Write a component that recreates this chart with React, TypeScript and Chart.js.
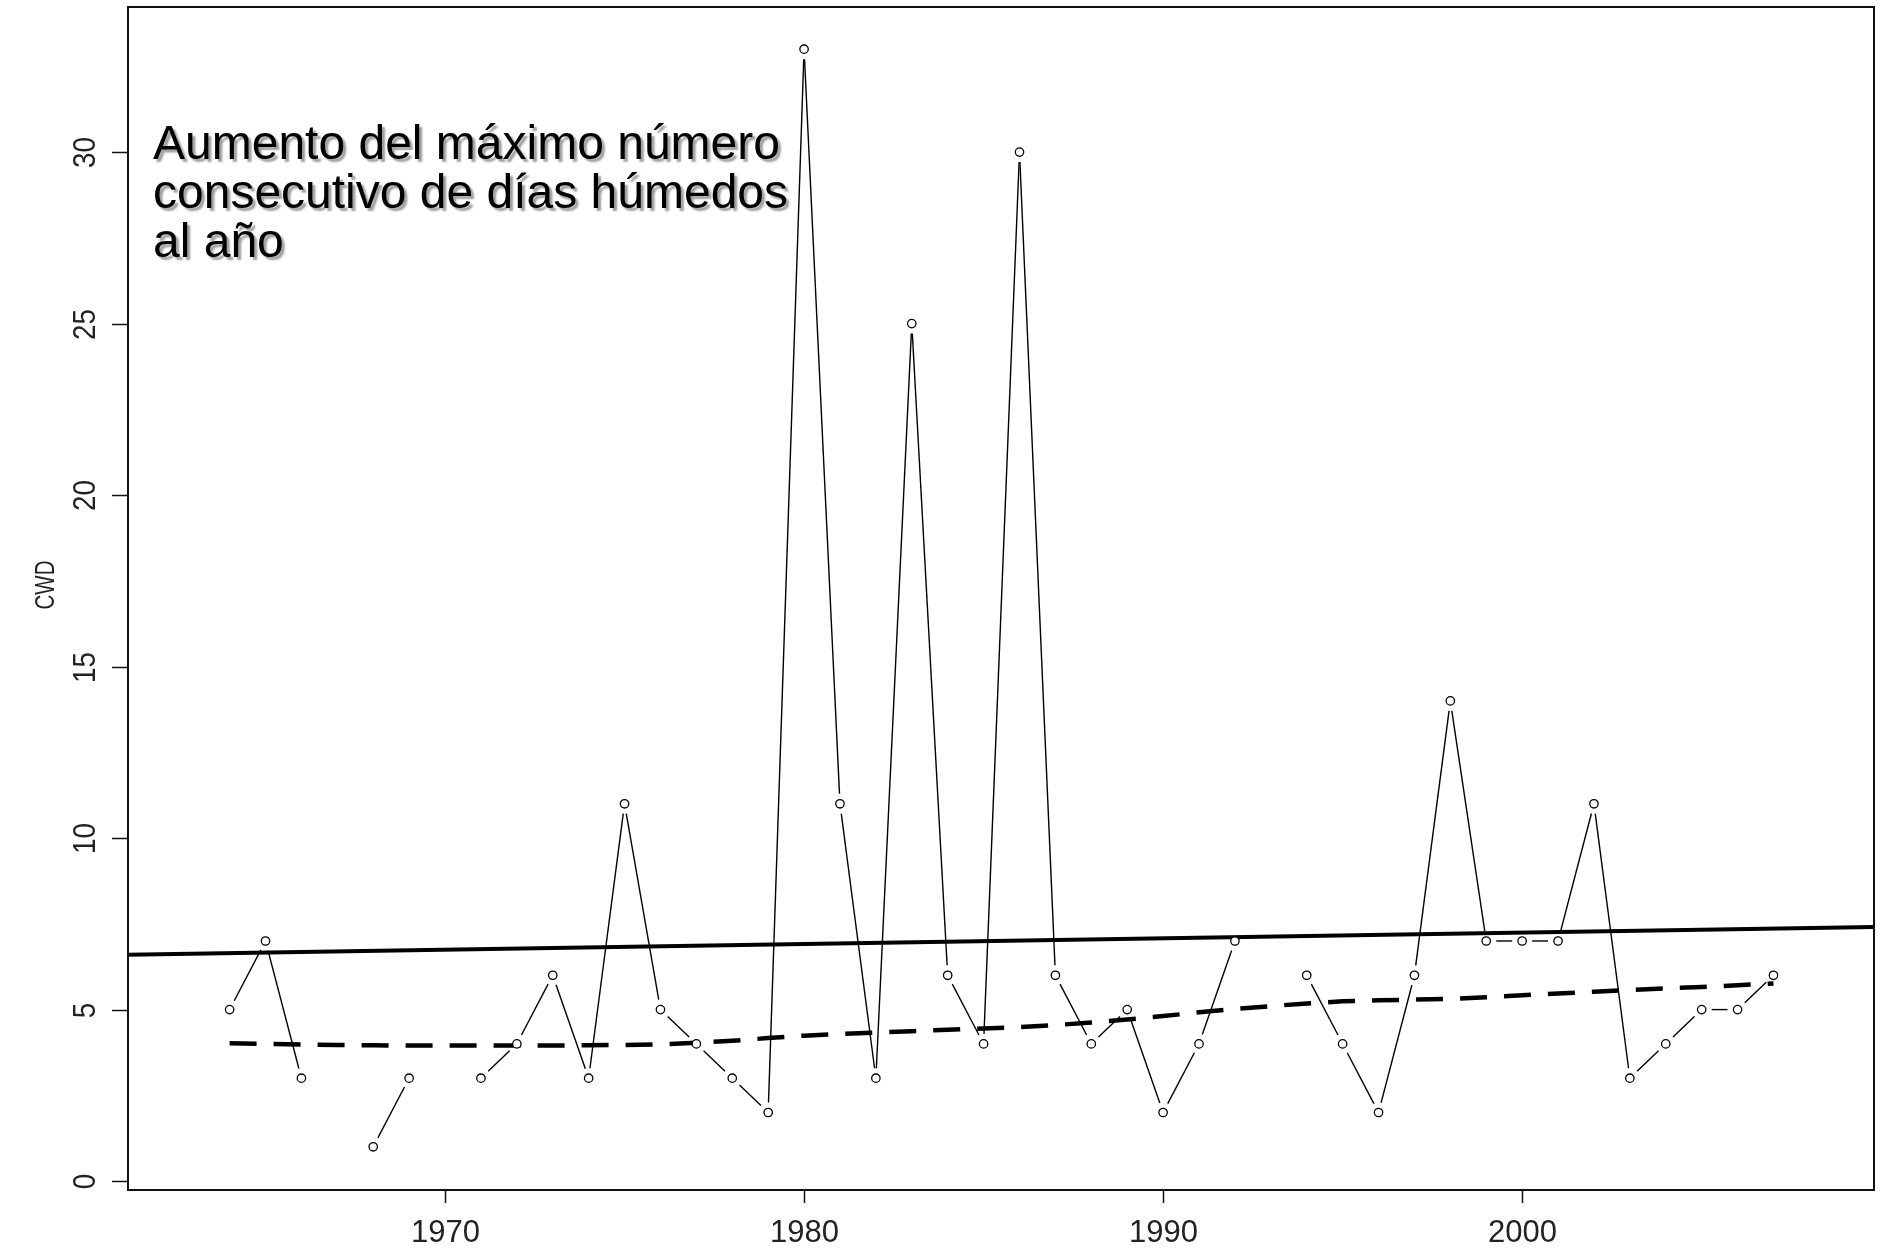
import React, { useEffect, useRef } from "react";
import { Chart, registerables } from "chart.js";

Chart.register(...registerables);

// ---- data ----
const years = [
  1964, 1965, 1966, 1967, 1968, 1969, 1970, 1971, 1972, 1973, 1974, 1975, 1976, 1977, 1978,
  1979, 1980, 1981, 1982, 1983, 1984, 1985, 1986, 1987, 1988, 1989, 1990, 1991, 1992, 1993,
  1994, 1995, 1996, 1997, 1998, 1999, 2000, 2001, 2002, 2003, 2004, 2005, 2006, 2007,
];
const cwd: (number | null)[] = [
  5, 7, 3, null, 1, 3, null, 3, 4, 6, 3, 11, 5, 4, 3,
  2, 33, 11, 3, 25, 6, 4, 30, 6, 4, 5, 2, 4, 7, null,
  6, 4, 2, 6, 14, 7, 7, 7, 11, 3, 4, 5, 5, 6,
];
const smoothed = [
  4.02, 4.0, 3.98, 3.97, 3.96, 3.95, 3.95, 3.95, 3.95, 3.95, 3.96, 3.97, 3.99, 4.03, 4.09,
  4.17, 4.24, 4.29, 4.33, 4.37, 4.41, 4.45, 4.49, 4.55, 4.62, 4.71, 4.81, 4.92, 5.02, 5.1,
  5.18, 5.24, 5.27, 5.29, 5.31, 5.36, 5.42, 5.47, 5.52, 5.57, 5.62, 5.66, 5.71, 5.76,
];
const trendYears = [1961.17, 2009.8];
const trendValues = [6.6, 7.41];

const xTicks = [1970, 1980, 1990, 2000];
const yTicks = [0, 5, 10, 15, 20, 25, 30];
const yLabel = "CWD";
const titleLines = [
  "Aumento del máximo número",
  "consecutivo de días húmedos",
  "al año",
];

// axis limits
const xMin = 1961.17;
const xMax = 2009.8;
const yMin = -0.26;
const yMax = 34.23;

export default function App() {
  const ref = useRef<HTMLCanvasElement>(null);

  useEffect(() => {
    document.body.style.margin = "0";
    const canvas = ref.current!;

    const rStyle = {
      id: "rStyle",
      beforeDraw(chart: any) {
        const ctx = chart.ctx;
        ctx.save();
        ctx.fillStyle = "#ffffff";
        ctx.fillRect(0, 0, chart.width, chart.height);
        ctx.restore();
      },
      beforeDatasetsDraw(chart: any) {
        // R type="b": line segments with gaps around the points
        const ctx = chart.ctx;
        const meta = chart.getDatasetMeta(0);
        const gap = 10;
        ctx.save();
        ctx.strokeStyle = "#000";
        ctx.lineWidth = 1.4;
        for (let i = 0; i < cwd.length - 1; i++) {
          if (cwd[i] == null || cwd[i + 1] == null) continue;
          const a = meta.data[i];
          const b = meta.data[i + 1];
          const dx = b.x - a.x;
          const dy = b.y - a.y;
          const L = Math.hypot(dx, dy);
          if (L <= 2 * gap) continue;
          const ux = dx / L;
          const uy = dy / L;
          ctx.beginPath();
          ctx.moveTo(a.x + ux * gap, a.y + uy * gap);
          ctx.lineTo(b.x - ux * gap, b.y - uy * gap);
          ctx.stroke();
        }
        ctx.restore();
      },
      afterDraw(chart: any) {
        const ctx = chart.ctx;
        const area = chart.chartArea;
        const xs = chart.scales.x;
        const ys = chart.scales.y;
        ctx.save();
        // box
        ctx.strokeStyle = "#111";
        ctx.lineWidth = 2;
        ctx.strokeRect(area.left, area.top, area.right - area.left, area.bottom - area.top);

        // x ticks
        ctx.lineWidth = 1.5;
        ctx.fillStyle = "#222";
        ctx.font = "31px 'Liberation Sans', Arial, sans-serif";
        ctx.textAlign = "center";
        ctx.textBaseline = "alphabetic";
        for (const t of xTicks) {
          const px = Math.round(xs.getPixelForValue(t)) + 0.5;
          ctx.beginPath();
          ctx.moveTo(px, area.bottom);
          ctx.lineTo(px, area.bottom + 13);
          ctx.stroke();
          ctx.fillText(String(t), px, area.bottom + 52);
        }

        // y ticks (labels rotated as in R)
        for (const t of yTicks) {
          const py = Math.round(ys.getPixelForValue(t)) + 0.5;
          ctx.beginPath();
          ctx.moveTo(area.left, py);
          ctx.lineTo(area.left - 16, py);
          ctx.stroke();
          ctx.save();
          ctx.translate(area.left - 33, py);
          ctx.rotate(-Math.PI / 2);
          ctx.scale(0.9, 1);
          ctx.textAlign = "center";
          ctx.textBaseline = "alphabetic";
          ctx.fillText(String(t), 0, 0);
          ctx.restore();
        }

        // y axis title
        ctx.save();
        ctx.translate(54, 585);
        ctx.rotate(-Math.PI / 2);
        ctx.scale(0.76, 1);
        ctx.font = "27px 'Liberation Sans', Arial, sans-serif";
        ctx.textAlign = "center";
        ctx.textBaseline = "alphabetic";
        ctx.fillText(yLabel, 0, 0);
        ctx.restore();

        // annotation text with shadow
        ctx.save();
        ctx.font = "48px 'Liberation Sans', Arial, sans-serif";
        ctx.textAlign = "left";
        ctx.textBaseline = "alphabetic";
        ctx.fillStyle = "#000";
        ctx.shadowColor = "rgba(0,0,0,0.38)";
        ctx.shadowOffsetX = 3;
        ctx.shadowOffsetY = 3;
        ctx.shadowBlur = 2;
        titleLines.forEach((line, i) => {
          ctx.fillText(line, area.left + 25, 159 + i * 49);
        });
        ctx.restore();

        ctx.restore();
      },
    };

    const chart = new Chart(canvas, {
      type: "line",
      data: {
        datasets: [
          {
            label: "CWD",
            data: years.map((x, i) => ({ x, y: cwd[i] })) as any,
            showLine: false,
            pointStyle: "circle",
            pointRadius: 4.2,
            pointBorderWidth: 1.3,
            pointBackgroundColor: "#ffffff",
            pointBorderColor: "#000000",
            borderColor: "#000000",
            order: 0,
          },
          {
            label: "trend",
            data: trendYears.map((x, i) => ({ x, y: trendValues[i] })),
            borderColor: "#000000",
            borderWidth: 4,
            pointRadius: 0,
            order: 1,
          },
          {
            label: "smooth",
            data: years.map((x, i) => ({ x, y: smoothed[i] })),
            borderColor: "#000000",
            borderWidth: 4.5,
            borderDash: [27, 17],
            pointRadius: 0,
            order: 2,
          },
        ],
      },
      options: {
        animation: false,
        responsive: false,
        devicePixelRatio: 1,
        events: [],
        layout: { padding: { left: 128, right: 7, top: 7, bottom: 60 } },
        plugins: { legend: { display: false }, tooltip: { enabled: false } },
        scales: {
          x: { type: "linear", min: xMin, max: xMax, display: false },
          y: { type: "linear", min: yMin, max: yMax, display: false },
        },
      },
      plugins: [rStyle],
    });

    return () => chart.destroy();
  }, []);

  return (
    <canvas
      ref={ref}
      width={1881}
      height={1250}
      style={{ display: "block", width: "1881px", height: "1250px" }}
    />
  );
}
